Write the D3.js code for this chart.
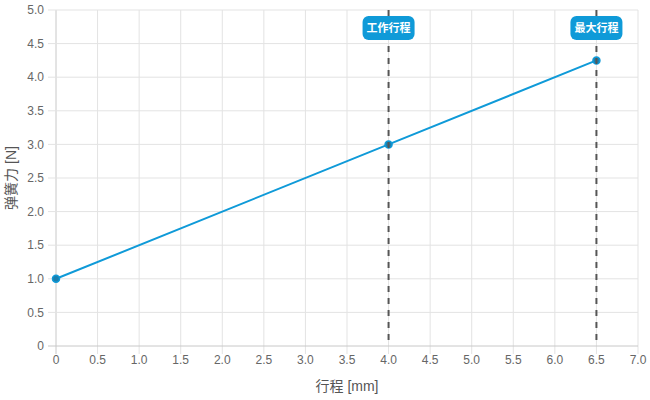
<!DOCTYPE html>
<html>
<head>
<meta charset="utf-8">
<script src="https://cdn.jsdelivr.net/npm/d3@7"></script>
<style>
  body { margin: 0; background: #fff; }
  svg { display: block; font-family: "Helvetica Neue", "Liberation Sans", Arial, "Noto Sans CJK SC", sans-serif; }
</style>
</head>
<body>
<svg id="chart" width="650" height="400"></svg>
<script>
// données
const strokeValues = [0, 4.0, 6.5];
const forceValues = [1.0, 3.0, 4.25];
const xTicks = [0, 0.5, 1.0, 1.5, 2.0, 2.5, 3.0, 3.5, 4.0, 4.5, 5.0, 5.5, 6.0, 6.5, 7.0];
const yTicks = [0, 0.5, 1.0, 1.5, 2.0, 2.5, 3.0, 3.5, 4.0, 4.5, 5.0];
const markerPositions = [4.0, 6.5];
const markerLabels = ['工作行程', '最大行程'];

const blue = '#0f9ad8';
const fmt = v => v === 0 ? '0' : v.toFixed(1);

const svg = d3.select('#chart');
const margin = { left: 56, right: 12, top: 10, bottom: 54 };
const width = 650, height = 400;

const x = d3.scaleLinear().domain([0, 7]).range([margin.left, width - margin.right]);
const y = d3.scaleLinear().domain([0, 5]).range([height - margin.bottom, margin.top]);

// grille
const grid = svg.append('g');
grid.selectAll('line.v').data(xTicks).enter().append('line')
  .attr('x1', d => x(d)).attr('x2', d => x(d))
  .attr('y1', y(5)).attr('y2', y(0) + 8)
  .attr('stroke', d => d === 0 ? '#c8c8c8' : '#e3e3e3').attr('stroke-width', 1);
grid.selectAll('line.h').data(yTicks).enter().append('line')
  .attr('y1', d => y(d)).attr('y2', d => y(d))
  .attr('x1', x(0) - 8).attr('x2', x(7))
  .attr('stroke', d => d === 0 ? '#c8c8c8' : '#e3e3e3').attr('stroke-width', 1);

// axes (textes seulement)
svg.append('g').selectAll('text').data(yTicks).enter().append('text')
  .attr('x', x(0) - 12).attr('y', d => y(d)).attr('dy', '0.35em')
  .attr('text-anchor', 'end').attr('font-size', 12).attr('fill', '#666')
  .text(fmt);
svg.append('g').selectAll('text').data(xTicks).enter().append('text')
  .attr('x', d => x(d)).attr('y', y(0) + 18)
  .attr('text-anchor', 'middle').attr('font-size', 12).attr('fill', '#666')
  .text(fmt);

svg.append('text')
  .attr('transform', `translate(16,${(y(0) + y(5)) / 2}) rotate(-90)`)
  .attr('text-anchor', 'middle').attr('font-size', 14).attr('fill', '#555')
  .text('弹簧力 [N]');
svg.append('text')
  .attr('x', (x(0) + x(7)) / 2).attr('y', 391)
  .attr('text-anchor', 'middle').attr('font-size', 14).attr('fill', '#555')
  .text('行程 [mm]');

// série
const pts = strokeValues.map((v, i) => ({ x: v, y: forceValues[i] }));
svg.append('path').datum(pts)
  .attr('fill', 'none').attr('stroke', blue).attr('stroke-width', 2)
  .attr('d', d3.line().x(d => x(d.x)).y(d => y(d.y)));
svg.append('g').selectAll('circle').data(pts).enter().append('circle')
  .attr('cx', d => x(d.x)).attr('cy', d => y(d.y)).attr('r', 3.5)
  .attr('fill', '#1b7fae').attr('stroke', blue).attr('stroke-width', 1.5);

// annotations
const ann = svg.append('g');
markerPositions.forEach((m, i) => {
  ann.append('line')
    .attr('x1', x(m)).attr('x2', x(m)).attr('y1', y(5)).attr('y2', y(0))
    .attr('stroke', '#555').attr('stroke-width', 2).attr('stroke-dasharray', '6,6');
  const g = ann.append('g').attr('transform', `translate(${x(m)},28)`);
  g.append('rect').attr('x', -26).attr('y', -12).attr('width', 52).attr('height', 24)
    .attr('rx', 6).attr('fill', blue);
  g.append('text').attr('text-anchor', 'middle').attr('dy', '0.36em')
    .attr('font-size', 11).attr('font-weight', 'bold').attr('fill', '#fff')
    .text(markerLabels[i]);
});
</script>
</body>
</html>
